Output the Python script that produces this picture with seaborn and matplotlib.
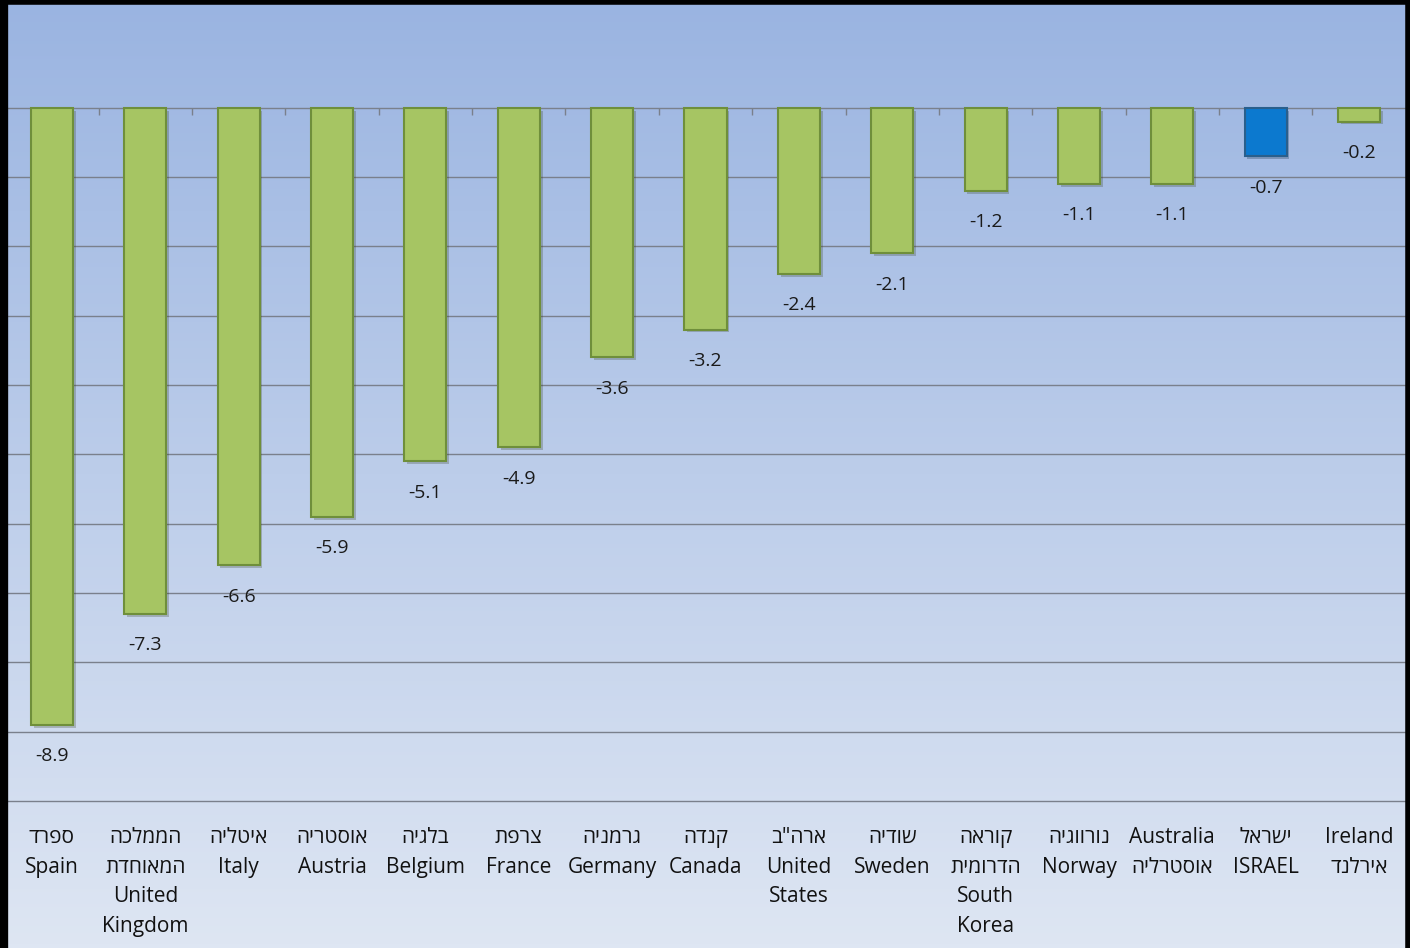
import numpy as np
import pandas as pd
import matplotlib
matplotlib.use("Agg")
import matplotlib.pyplot as plt
from matplotlib.lines import Line2D
import matplotlib.patheffects as pe
import seaborn as sns

plt.rcParams['font.family'] = ['Open Sans', 'DejaVu Sans']

# ---- data ----
countries_he = ["ספרד", "הממלכה\nהמאוחדת", "איטליה", "אוסטריה", "בלגיה", "צרפת",
                "גרמניה", "קנדה", 'ארה"ב', "שודיה", "קוראה\nהדרומית", "נורווגיה",
                "אוסטרליה", "ישראל", "אירלנד"]
countries_en = ["Spain", "United\nKingdom", "Italy", "Austria", "Belgium", "France",
                "Germany", "Canada", "United\nStates", "Sweden", "South\nKorea", "Norway",
                "Australia", "ISRAEL", "Ireland"]
english_first = [False] * 12 + [True, False, True]
values = [-8.9, -7.3, -6.6, -5.9, -5.1, -4.9, -3.6, -3.2, -2.4, -2.1, -1.2, -1.1, -1.1, -0.7, -0.2]
highlight = "ISRAEL"

GREEN = "#A6C563"
GREEN_EDGE = "#6F8F3B"
BLUE = "#0C79CF"
BLUE_EDGE = "#2A5F8C"


def visual(s):
    out = []
    for line in s.split("\n"):
        if any('\u0590' <= c <= '\u05FF' for c in line):
            out.append(line[::-1])
        else:
            out.append(line)
    return "\n".join(out)


labels = []
for he, en, ef in zip(countries_he, countries_en, english_first):
    if ef:
        labels.append(en + "\n" + visual(he))
    else:
        labels.append(visual(he) + "\n" + en)

df = pd.DataFrame({"country": countries_en, "value": values})
colors = [BLUE if c == highlight else GREEN for c in countries_en]
edges = [BLUE_EDGE if c == highlight else GREEN_EDGE for c in countries_en]

W, H = 1410, 948
fig = plt.figure(figsize=(W / 100, H / 100), dpi=100)

# background gradient
bg = fig.add_axes([0, 0, 1, 1], zorder=-10)
top = np.array([154, 180, 225]) / 255
bot = np.array([222, 230, 243]) / 255
t = np.linspace(0, 1, 256)[:, None]
grad = top[None, :] * (1 - t) + bot[None, :] * t
bg.imshow(grad[:, None, :].repeat(2, axis=1), aspect='auto', extent=[0, 1, 0, 1])
bg.set_axis_off()

left_px, right_px = 5.3, 1405.7
top_px, bottom_px = 10, 803.1
ax = fig.add_axes([left_px / W, 1 - bottom_px / H, (right_px - left_px) / W, (bottom_px - top_px) / H])
ax.set_facecolor("none")

sns.barplot(data=df, x="country", y="value", hue="country", palette=colors,
            width=0.45, legend=False, ax=ax, saturation=1, zorder=3)
for p, ec in zip(ax.patches, edges):
    p.set_edgecolor(ec)
    p.set_linewidth(1.5)
    p.set_path_effects([pe.SimplePatchShadow(offset=(2, -2), alpha=0.25), pe.Normal()])

for cont in ax.containers:
    ax.bar_label(cont, fmt="%.1f", padding=16, fontsize=14, color="#1a1a1a")

ax.set_ylim(-10.03, 1.41)
ax.set_xlim(-0.5, len(values) - 0.5)
ax.set_yticks(np.arange(-10, 1, 1))
ax.yaxis.grid(True, color="#7a808c", linewidth=1.0, zorder=0)
ax.set_axisbelow(True)
ax.tick_params(axis='y', left=False, labelleft=False)
ax.set_xticks(range(len(values)))
ax.set_xticklabels(labels, fontsize=15, linespacing=1.55, color="#111111")
ax.tick_params(axis='x', length=0, pad=17)
ax.set_xlabel("")
ax.set_ylabel("")
for s in ax.spines.values():
    s.set_visible(False)

# small category separator ticks on the zero line
ax.vlines(np.arange(len(values) - 1) + 0.5, -0.1, 0, color="#7a808c", linewidth=1.0, zorder=1)

# black frame
fig.add_artist(Line2D([4 / W, 4 / W], [0, 1], color="black", linewidth=6, transform=fig.transFigure))
fig.add_artist(Line2D([0, 1], [1 - 2 / H, 1 - 2 / H], color="black", linewidth=4, transform=fig.transFigure))
fig.add_artist(Line2D([1 - 2.5 / W, 1 - 2.5 / W], [0, 1], color="black", linewidth=4, transform=fig.transFigure))

fig.savefig("out.png", dpi=100)
